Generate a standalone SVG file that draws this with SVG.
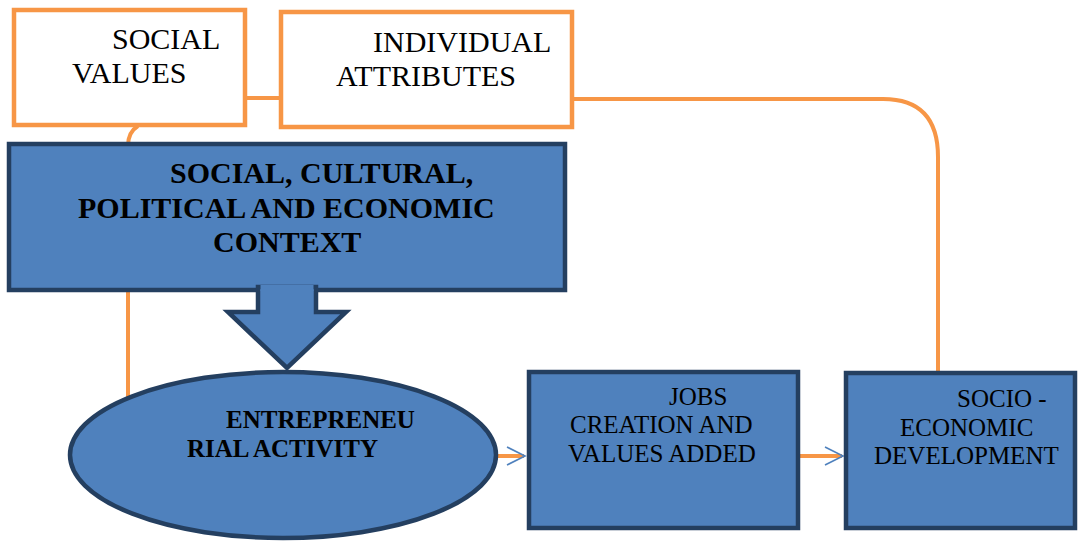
<svg xmlns="http://www.w3.org/2000/svg" width="1078" height="541" viewBox="0 0 1078 541">
  <defs>
    <style>
      .link { fill: none; stroke: #F79646; stroke-width: 4; }
      .head { fill: none; stroke: #4F81BD; stroke-width: 1.6; }
      .outline { fill: #FFFFFF; stroke: #F79646; stroke-width: 4.5; }
      .solid { fill: #4F81BD; stroke: #243F60; stroke-width: 4.5; }
      .t { font-family: "Liberation Serif", "Times New Roman", serif; fill: #000000; }
      .reg { font-size: 30px; }
      .bold { font-size: 30px; font-weight: bold; }
      .small { font-size: 25px; }
      .smallbold { font-size: 25px; font-weight: bold; }
    </style>
  </defs>

  <rect width="1078" height="541" fill="#FFFFFF"/>

  <!-- connectors -->
  <g id="connectors">
    <path class="link" d="M245,98 L281,98"/>
    <path class="link" d="M572,99 L883,99 Q938,99 938,157 L938,372"/>
    <path class="link" d="M138,126 Q128,132 128,146 L128,398"/>
    <path class="link" d="M497,456 L524,456"/>
    <path class="head" d="M507,447 L525,456 L507,465"/>
    <path class="link" d="M800,456 L842,456"/>
    <path class="head" d="M825,447 L843,456 L825,465"/>
  </g>

  <!-- social values -->
  <g id="social-values">
    <rect class="outline" x="14" y="10" width="231" height="115"/>
    <text class="t reg" x="112" y="49">SOCIAL</text>
    <text class="t reg" x="72" y="83">VALUES</text>
  </g>

  <!-- individual attributes -->
  <g id="individual-attributes">
    <rect class="outline" x="281" y="12" width="291" height="115"/>
    <text class="t reg" x="373" y="52">INDIVIDUAL</text>
    <text class="t reg" x="336" y="86">ATTRIBUTES</text>
  </g>

  <!-- context box -->
  <g id="context">
    <rect class="solid" x="9" y="144" width="556" height="146"/>
    <text class="t bold" x="170" y="183">SOCIAL, CULTURAL,</text>
    <text class="t bold" x="78" y="218">POLITICAL AND ECONOMIC</text>
    <text class="t bold" x="213" y="252">CONTEXT</text>
  </g>

  <!-- block arrow from context down to activity -->
  <g id="context-arrow">
    <polygon class="solid" points="258,287 258,312 228,312 287,368 346,312 316,312 316,287"/>
    <rect x="260.5" y="285" width="53" height="6" fill="#4F81BD"/>
  </g>

  <!-- entrepreneurial activity -->
  <g id="entrepreneurial-activity">
    <ellipse class="solid" cx="283" cy="455" rx="213" ry="83"/>
    <text class="t smallbold" x="226" y="428">ENTREPRENEU</text>
    <text class="t smallbold" x="187" y="457">RIAL ACTIVITY</text>
  </g>

  <!-- jobs creation -->
  <g id="jobs-creation">
    <rect class="solid" x="529" y="372" width="269" height="156"/>
    <text class="t small" x="669" y="405">JOBS</text>
    <text class="t small" x="570" y="433">CREATION AND</text>
    <text class="t small" x="568" y="462">VALUES ADDED</text>
  </g>

  <!-- socio-economic development -->
  <g id="socio-economic-development">
    <rect class="solid" x="846" y="373" width="229" height="155"/>
    <text class="t small" x="957" y="407">SOCIO -</text>
    <text class="t small" x="900" y="436">ECONOMIC</text>
    <text class="t small" x="874" y="464">DEVELOPMENT</text>
  </g>
</svg>
